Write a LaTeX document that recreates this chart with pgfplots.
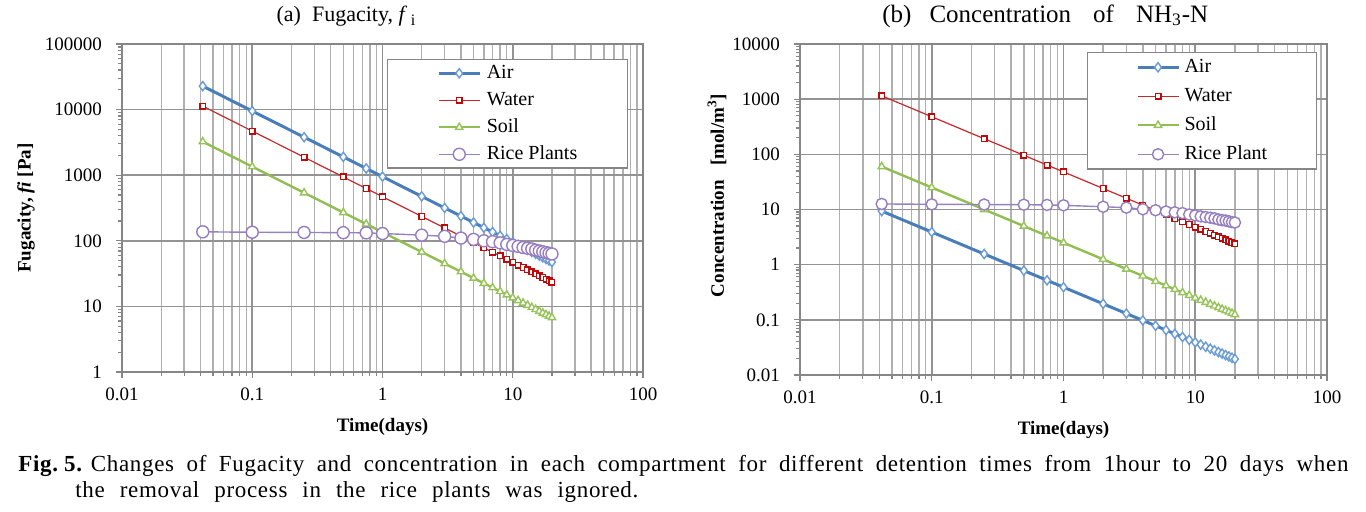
\documentclass[border=0pt]{standalone}
\usepackage{pgfplots}
\pgfplotsset{compat=1.18}
\usepackage{pgfplotstable}
\usepackage{fontspec}
\setmainfont{Liberation Serif}
\newfontfamily\capfont[LetterSpace=3]{Liberation Serif}

\definecolor{airline}{RGB}{74,126,187}
\definecolor{airmark}{RGB}{105,155,212}
\definecolor{waterline}{RGB}{200,40,40}
\definecolor{watermark}{RGB}{192,10,10}
\definecolor{soilline}{RGB}{145,190,80}
\definecolor{soilmark}{RGB}{150,195,90}
\definecolor{riceline}{RGB}{150,130,190}
\definecolor{ricemark}{RGB}{150,125,192}

\pgfplotstableread{
t      air    water  soil   rice
0.0417 22800  11280  3240   137
0.1    9500   4700   1350   135
0.25   3800   1880   540    134
0.5    1900   940    270    133
0.75   1267   627    180    132
1      950    470    135    129
2      475    235    67.5   122
3      317    157    45     117
4      238    118    33.8   110
5      190    94     27     105
6      158    78.3   22.5   100
7      136    67.1   19.3   97
8      119    58.8   16.9   93
9      106    52.2   15     88
10     95     47     13.5   85
11     86.4   42.7   12.3   82
12     79.2   39.2   11.25  79
13     73.1   36.2   10.4   77
14     67.9   33.6   9.64   75
15     63.3   31.3   9.0    72
16     59.4   29.4   8.44   70
17     55.9   27.6   7.94   68
18     52.8   26.1   7.5    66
19     50.0   24.7   7.1    64.5
20     47.5   23.5   6.75   63
}\fugtable

\pgfplotstableread{
t      air     water  soil   rice
0.0417 9.36    1151   60     12.6
0.1    3.9     480    25     12.4
0.25   1.56    192    10     12.3
0.5    0.78    96     5      12.2
0.75   0.52    64     3.33   12.1
1      0.39    48     2.5    11.9
2      0.195   24     1.25   11.2
3      0.13    16     0.833  10.8
4      0.0975  12     0.625  10.1
5      0.078   9.6    0.5    9.7
6      0.065   8      0.417  9.2
7      0.0557  6.86   0.357  8.9
8      0.0488  6      0.3125 8.6
9      0.0433  5.33   0.278  8.1
10     0.039   4.8    0.25   7.8
11     0.0355  4.36   0.227  7.5
12     0.0325  4      0.208  7.3
13     0.030   3.69   0.192  7.1
14     0.0279  3.43   0.179  6.9
15     0.026   3.2    0.167  6.6
16     0.0244  3      0.156  6.4
17     0.0229  2.82   0.147  6.3
18     0.0217  2.67   0.139  6.1
19     0.0205  2.53   0.132  5.9
20     0.0195  2.4    0.125  5.8
}\conctable

\begin{document}
\begin{tikzpicture}
\useasboundingbox (0pt,0pt) rectangle (683pt,256pt);

% ---------- panel (a) ----------
\begin{axis}[
  scale only axis, xmode=log, ymode=log,
  at={(61pt,70pt)}, anchor=south west,
  width=260.5pt, height=164pt,
  xmin=0.01, xmax=100,
  xtick={0.01,0.1,1,10,100},
  xticklabels={0.01,0.1,1,10,100},
  minor xtick={0.02,0.03,0.04,0.05,0.06,0.07,0.08,0.09,0.2,0.3,0.4,0.5,0.6,0.7,0.8,0.9,2,3,4,5,6,7,8,9,20,30,40,50,60,70,80,90},
  ymin=1, ymax=100000,
  ytick={1,10,100,1000,10000,100000},
  yticklabels={1,10,100,1000,10000,100000},
  minor ytick={2,3,4,5,6,7,8,9,20,30,40,50,60,70,80,90,200,300,400,500,600,700,800,900,2000,3000,4000,5000,6000,7000,8000,9000,20000,30000,40000,50000,60000,70000,80000,90000},
  tick align=outside, tick pos=left,
  major tick length=3pt, minor tick length=2pt,
  axis line style={draw=gray!95, line width=0.7pt},
  tick style={draw=gray!95, line width=0.6pt},
  xmajorgrids, xminorgrids, ymajorgrids,
  major grid style={draw=gray!85, line width=0.8pt},
  minor grid style={draw=gray!62, line width=0.7pt},
  tick label style={font=\fontsize{9.5}{11}\selectfont},
  yticklabel style={xshift=-3.5pt},
  xticklabel style={yshift=-1.5pt},
  xlabel={\textbf{Time(days)}},
  every axis x label/.style={at={(axis description cs:0.5,0)}, anchor=center, yshift=-27.5pt, font=\fontsize{9.5}{11}\selectfont},
  ylabel={\textbf{Fugacity, \textit{fi} [Pa]}},
  every axis y label/.style={at={(axis description cs:0,0.5)}, rotate=90, anchor=center, yshift=48pt, font=\fontsize{9.5}{11}\selectfont},
  legend cell align=left,
  legend image code/.code={\draw[mark repeat=2,mark phase=2,#1] plot coordinates {(0pt,0pt) (10pt,0pt) (20.5pt,0pt)};},
  legend style={at={(axis description cs:1,1)}, anchor=north east, xshift=-7.5pt, yshift=-7.5pt,
    draw=gray!95, line width=0.7pt, fill=white,
    font=\fontsize{10}{12}\selectfont,
    inner xsep=25pt, inner ysep=2.3pt, row sep=4.5pt, column sep=2.5pt,
    nodes={inner sep=0pt, text height=7pt, text depth=2pt}},
  clip=false,
]
\addplot[color=airline, line width=1.5pt, mark=diamond*, mark size=2.3pt, mark options={solid, fill=white, draw=airmark, line width=0.7pt}] table[x=t, y=air] {\fugtable};
\addlegendentry{Air}
\addplot[color=waterline, line width=0.6pt, mark=square*, mark size=1.4pt, mark options={solid, fill=white, draw=watermark, line width=0.7pt}] table[x=t, y=water] {\fugtable};
\addlegendentry{Water}
\addplot[color=soilline, line width=1.2pt, mark=triangle*, mark size=2.1pt, mark options={solid, fill=white, draw=soilmark, line width=0.7pt}] table[x=t, y=soil] {\fugtable};
\addlegendentry{Soil}
\addplot[color=riceline, line width=0.7pt, mark=*, mark size=3pt, mark options={solid, fill=white, draw=ricemark, line width=0.7pt}] table[x=t, y=rice] {\fugtable};
\addlegendentry{Rice Plants}
\end{axis}

% ---------- panel (b) ----------
\begin{axis}[
  scale only axis, xmode=log, ymode=log,
  at={(400pt,68.5pt)}, anchor=south west,
  width=263.5pt, height=165.5pt,
  xmin=0.01, xmax=100,
  xtick={0.01,0.1,1,10,100},
  xticklabels={0.01,0.1,1,10,100},
  minor xtick={0.02,0.03,0.04,0.05,0.06,0.07,0.08,0.09,0.2,0.3,0.4,0.5,0.6,0.7,0.8,0.9,2,3,4,5,6,7,8,9,20,30,40,50,60,70,80,90},
  ymin=0.01, ymax=10000,
  ytick={0.01,0.1,1,10,100,1000,10000},
  yticklabels={0.01,0.1,1,10,100,1000,10000},
  minor ytick={0.02,0.03,0.04,0.05,0.06,0.07,0.08,0.09,0.2,0.3,0.4,0.5,0.6,0.7,0.8,0.9,2,3,4,5,6,7,8,9,20,30,40,50,60,70,80,90,200,300,400,500,600,700,800,900,2000,3000,4000,5000,6000,7000,8000,9000},
  tick align=outside, tick pos=left,
  major tick length=3pt, minor tick length=2pt,
  axis line style={draw=gray!95, line width=0.7pt},
  tick style={draw=gray!95, line width=0.6pt},
  xmajorgrids, xminorgrids, ymajorgrids,
  major grid style={draw=gray!85, line width=0.8pt},
  minor grid style={draw=gray!62, line width=0.7pt},
  tick label style={font=\fontsize{9.5}{11}\selectfont},
  yticklabel style={xshift=-3.5pt},
  xticklabel style={yshift=-1.5pt},
  xlabel={\textbf{Time(days)}},
  every axis x label/.style={at={(axis description cs:0.5,0)}, anchor=center, yshift=-27.5pt, font=\fontsize{9.5}{11}\selectfont},
  ylabel={\textbf{Concentration\ \ \ [mol/m\textsuperscript{3}]}},
  every axis y label/.style={at={(axis description cs:0,0.5)}, rotate=90, anchor=center, yshift=41.5pt, xshift=7pt, font=\fontsize{9.5}{11}\selectfont},
  legend cell align=left,
  legend image code/.code={\draw[mark repeat=2,mark phase=2,#1] plot coordinates {(0pt,0pt) (10pt,0pt) (20.5pt,0pt)};},
  legend style={at={(axis description cs:1,1)}, anchor=north east, xshift=-5pt, yshift=-4pt,
    draw=gray!95, line width=0.7pt, fill=white,
    font=\fontsize{10}{12}\selectfont,
    inner xsep=24.5pt, inner ysep=2.8pt, row sep=5.5pt, column sep=2pt,
    nodes={inner sep=0pt, text height=7pt, text depth=2pt}},
  clip=false,
]
\addplot[color=airline, line width=1.5pt, mark=diamond*, mark size=2.3pt, mark options={solid, fill=white, draw=airmark, line width=0.7pt}] table[x=t, y=air] {\conctable};
\addlegendentry{Air}
\addplot[color=waterline, line width=0.6pt, mark=square*, mark size=1.4pt, mark options={solid, fill=white, draw=watermark, line width=0.7pt}] table[x=t, y=water] {\conctable};
\addlegendentry{Water}
\addplot[color=soilline, line width=1.2pt, mark=triangle*, mark size=2.1pt, mark options={solid, fill=white, draw=soilmark, line width=0.7pt}] table[x=t, y=soil] {\conctable};
\addlegendentry{Soil}
\addplot[color=riceline, line width=0.7pt, mark=*, mark size=2.8pt, mark options={solid, fill=white, draw=ricemark, line width=0.7pt}] table[x=t, y=rice] {\conctable};
\addlegendentry{Rice Plant}
\end{axis}

% ---------- titles ----------
\node[font=\fontsize{11}{13}\selectfont] at (173pt,248pt) {(a)\ \ Fugacity, \textit{f}\,\raisebox{-0.4ex}{\fontsize{8}{9}\selectfont i}};
\node[anchor=west, inner sep=0pt, font=\fontsize{12.5}{14}\selectfont] at (441pt,248pt) {(b)\hspace{9pt}Concentration\hspace{11pt}of\hspace{11pt}NH\textsubscript{3}-N};

% ---------- caption ----------
\node[anchor=base west, inner sep=0pt, font=\capfont\fontsize{11.5}{13}\selectfont] at (9pt,20pt)
 {\makebox[665pt][s]{\textbf{Fig.\hspace{3pt}5.}\hspace{4pt}Changes of Fugacity and concentration in each compartment for different detention times from 1hour to 20 days when}};
\node[anchor=base west, inner sep=0pt, font=\capfont\fontsize{11.5}{13}\selectfont] at (37.5pt,7pt)
 {\makebox[281.5pt][s]{the removal process in the rice plants was ignored.}};
\end{tikzpicture}
\end{document}
